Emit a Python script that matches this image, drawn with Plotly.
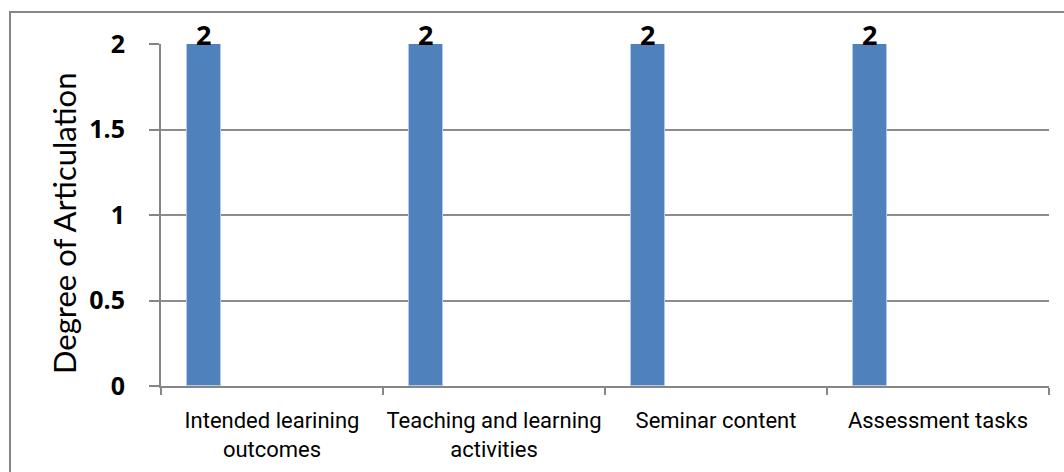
import plotly.graph_objects as go

# Rubric categories and their articulation scores
categories = [
    "Intended learining<br>outcomes",
    "Teaching and learning<br>activities",
    "Seminar content",
    "Assessment tasks",
]
scores = [2, 2, 2, 2]
y_ticks = [0, 0.5, 1, 1.5, 2]
y_tick_text = ["0", "0.5", "1", "1.5", "2"]
y_title = "Degree of Articulation"

W, H = 1064, 472
L, R, T, B = 161, 15, 44, 86
plot_w = W - L - R
plot_h = H - T - B

fig = go.Figure()
fig.add_trace(
    go.Bar(
        x=categories,
        y=scores,
        offset=-0.383,
        width=0.153,
        marker=dict(color="#4f81bd", line=dict(color="#b3c8e4", width=1)),
        showlegend=False,
    )
)

# Value labels sitting on top of each bar
for cat, val in zip(categories, scores):
    fig.add_annotation(
        x=cat,
        y=val,
        xshift=(-0.383 + 0.153 / 2) * plot_w / 4,
        yshift=-11,
        yanchor="bottom",
        text=f"<b>{val:g}</b>",
        showarrow=False,
        font=dict(family="Open Sans, sans-serif", size=27, color="#000000"),
    )

# Vertical axis title
fig.add_annotation(
    xref="paper",
    yref="paper",
    x=(64 - L) / plot_w,
    y=(H - B - 224) / plot_h,
    xanchor="center",
    yanchor="middle",
    text=y_title,
    textangle=-90,
    showarrow=False,
    font=dict(family="Lato, Noto Sans, sans-serif", size=31, color="#000000"),
)

# Outer frame around the chart
fig.add_shape(
    type="rect",
    xref="paper",
    yref="paper",
    x0=(10 - L) / plot_w,
    x1=(W + 20 - L) / plot_w,
    y0=-(B + 20) / plot_h,
    y1=(H - B - 12) / plot_h,
    line=dict(color="#868686", width=2),
    fillcolor="rgba(0,0,0,0)",
    layer="below",
)

fig.update_layout(
    width=W,
    height=H,
    margin=dict(l=L, r=R, t=T, b=B, pad=0),
    paper_bgcolor="#ffffff",
    plot_bgcolor="#ffffff",
    bargap=0,
    xaxis=dict(
        type="category",
        range=[-0.5, 3.5],
        automargin=False,
        tickangle=0,
        showgrid=False,
        showline=True,
        linecolor="#868686",
        linewidth=2,
        ticks="outside",
        tickson="boundaries",
        ticklen=7,
        tickwidth=2,
        tickcolor="#868686",
        tickfont=dict(family="Roboto, Liberation Sans, sans-serif", size=22, color="#000000"),
        ticklabelstandoff=14,
    ),
    yaxis=dict(
        range=[0, 2],
        automargin=False,
        tickvals=y_ticks,
        ticktext=y_tick_text,
        showgrid=True,
        gridcolor="#8c8c8c",
        gridwidth=2,
        showline=True,
        linecolor="#868686",
        linewidth=2,
        ticks="outside",
        ticklen=10,
        tickwidth=2,
        tickcolor="#868686",
        zeroline=False,
        tickfont=dict(family="Open Sans, sans-serif", size=25, color="#000000", weight="bold"),
        ticklabelstandoff=19,
    ),
)

fig.write_html("out.html")
